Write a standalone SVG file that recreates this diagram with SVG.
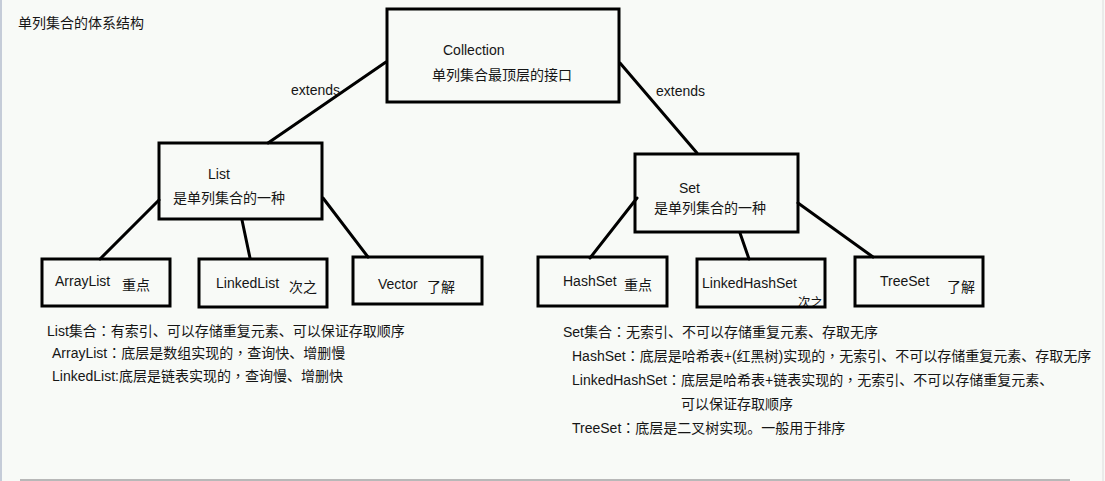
<svg xmlns="http://www.w3.org/2000/svg" width="1105" height="481" viewBox="0 0 1105 481">
<style>
text{font-family:"Liberation Sans","Noto Sans CJK SC",sans-serif;font-size:14px;fill:#151515}
.tc{font-family:"Noto Sans CJK TC",sans-serif}
.box{fill:none;stroke:#000;stroke-width:3}
.ln{stroke:#000;stroke-width:3;fill:none;stroke-linecap:round}
.sm{font-size:12.5px}
</style>
<rect x="0" y="0" width="1105" height="481" fill="#f8faf7"/>
<line x1="1" y1="0" x2="1" y2="481" stroke="#c5ccd8" stroke-width="2"/>
<line x1="20" y1="480" x2="1070" y2="480" stroke="#b8b8b8" stroke-width="2"/>
<line x1="1103" y1="0" x2="1103" y2="481" stroke="#dcdcdc" stroke-width="1"/>
<text x="18" y="28">单列集合的体系结构</text>
<g id="connectors">
<line class="ln" x1="386" y1="62" x2="268" y2="143"/>
<line class="ln" x1="620" y1="63" x2="697" y2="153"/>
<line class="ln" x1="159" y1="200" x2="100" y2="259"/>
<line class="ln" x1="242" y1="220" x2="250" y2="258"/>
<line class="ln" x1="323" y1="198" x2="368" y2="257"/>
<line class="ln" x1="637" y1="198" x2="590" y2="258"/>
<line class="ln" x1="740" y1="233" x2="749" y2="259"/>
<line class="ln" x1="798" y1="203" x2="873" y2="257"/>
<text x="291" y="95">extends</text>
<text x="656" y="96">extends</text>
</g>
<g id="collection">
<rect class="box" x="387" y="9" width="232" height="93"/>
<text x="443" y="55">Collection</text>
<text x="432" y="80">单列集合最顶层的接口</text>
</g>
<g id="list">
<rect class="box" x="159" y="143" width="163" height="76"/>
<text x="208" y="179">List</text>
<text x="173" y="203">是单列集合的一种</text>
</g>
<g id="set">
<rect class="box" x="635" y="154" width="163" height="78"/>
<text x="679" y="193">Set</text>
<text x="654" y="213">是单列集合的一种</text>
</g>
<g id="arraylist">
<rect class="box" x="42" y="259" width="128" height="47"/>
<text x="55" y="286">ArrayList</text>
<text x="122" y="290">重点</text>
</g>
<g id="linkedlist">
<rect class="box" x="199" y="259" width="128" height="48"/>
<text x="216" y="288">LinkedList</text>
<text x="289" y="292">次之</text>
</g>
<g id="vector">
<rect class="box" x="353" y="257" width="129" height="47"/>
<text x="378" y="289">Vector</text>
<text x="427" y="292">了解</text>
</g>
<g id="hashset">
<rect class="box" x="538" y="257" width="129" height="49"/>
<text x="563" y="286">HashSet</text>
<text x="624" y="290">重点</text>
</g>
<g id="linkedhashset">
<text class="sm" x="798" y="307">次之</text>
<rect class="box" x="697" y="259" width="128" height="48"/>
<text x="702" y="288">LinkedHashSet</text>
</g>
<g id="treeset">
<rect class="box" x="855" y="257" width="128" height="49"/>
<text x="880" y="286">TreeSet</text>
<text x="947" y="292">了解</text>
</g>
<g id="list-notes">
<text x="47" y="336">List集合<tspan class="tc">：</tspan>有索引、可以存储重复元素、可以保证存取顺序</text>
<text x="52" y="358">ArrayList<tspan class="tc">：</tspan>底层是数组实现的<tspan class="tc">，</tspan>查询快、增删慢</text>
<text x="52" y="381">LinkedList:底层是链表实现的<tspan class="tc">，</tspan>查询慢、增删快</text>
</g>
<g id="set-notes">
<text x="563" y="337">Set集合<tspan class="tc">：</tspan>无索引、不可以存储重复元素、存取无序</text>
<text x="572" y="361">HashSet<tspan class="tc">：</tspan>底层是哈希表+(红黑树)实现的<tspan class="tc">，</tspan>无索引、不可以存储重复元素、存取无序</text>
<text x="572" y="385">LinkedHashSet<tspan class="tc">：</tspan>底层是哈希表+链表实现的<tspan class="tc">，</tspan>无索引、不可以存储重复元素、</text>
<text x="681" y="409">可以保证存取顺序</text>
<text x="572" y="433">TreeSet<tspan class="tc">：</tspan>底层是二叉树实现。一般用于排序</text>
</g>
</svg>
